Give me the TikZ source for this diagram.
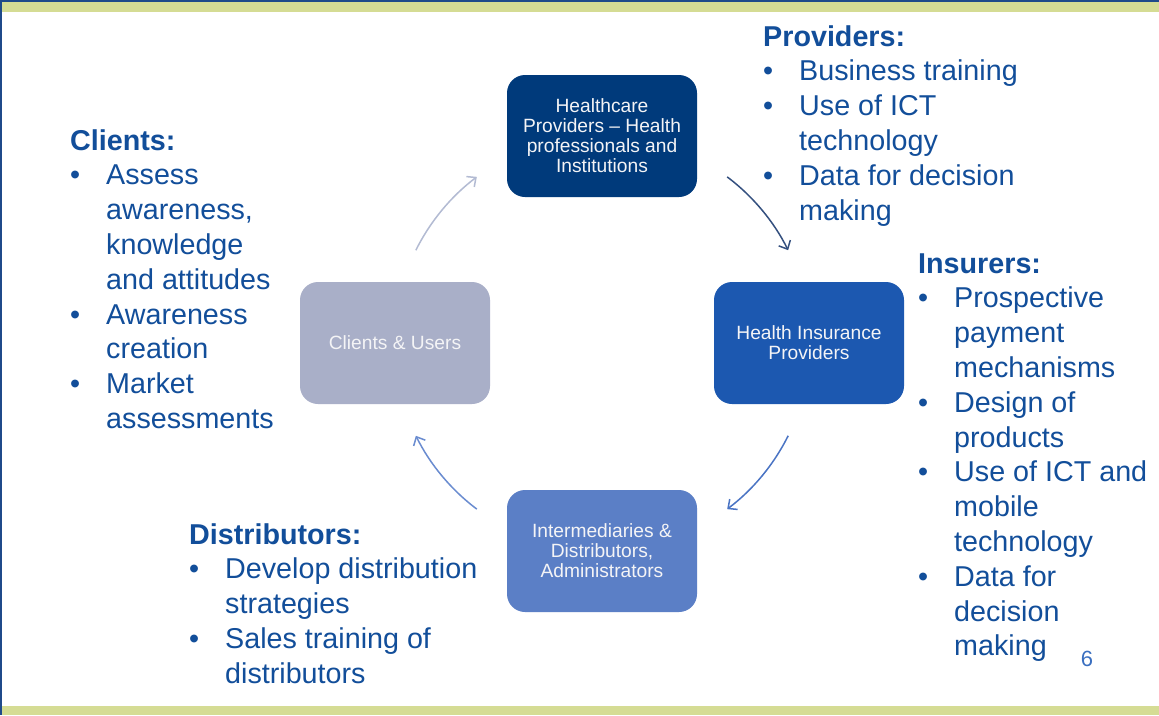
\documentclass[tikz,border=0pt]{standalone}
\usepackage{fontspec}
\setmainfont{Liberation Sans}
\usetikzlibrary{arrows.meta,calc}

\definecolor{bandgreen}{HTML}{D5DC94}
\definecolor{framenavy}{HTML}{1F4A8A}
\definecolor{textblue}{HTML}{124E9A}
\definecolor{boxnavy}{HTML}{003A7B}
\definecolor{boxblue}{HTML}{1C58B0}
\definecolor{boxmid}{HTML}{5B7FC6}
\definecolor{boxgrey}{HTML}{A9AFC8}
\definecolor{boxtext}{HTML}{F4F4F6}
\definecolor{arrgrey}{HTML}{B3BBD3}
\definecolor{arrnavy}{HTML}{34507F}
\definecolor{arrblue}{HTML}{4A74C4}
\definecolor{arrmid}{HTML}{6A8CD0}
\definecolor{pagenum}{HTML}{3A6FC0}

\tikzset{
  stakeholder/.style={rounded corners=18pt, minimum width=190pt, minimum height=122pt,
    inner sep=0pt, align=center, text=boxtext, font=\fontsize{19.2}{20}\selectfont},
  notes/.style={anchor=north west, inner sep=0pt, text=textblue,
    font=\fontsize{28.7}{34.8}\selectfont},
  cyclearrow/.style={line width=1.5pt, -{Straight Barb[length=7pt,width=13pt]}}
}

% bullet list: heading row, then rows of bullet + text
\newenvironment{actionlist}[1]{%
  \begin{tabular}{@{}p{36pt}@{}l@{}}
  \multicolumn{2}{@{}l@{}}{\textbf{#1}}\\}{%
  \end{tabular}}
\newcommand{\itm}{\textbullet}

\begin{document}
\begin{tikzpicture}[x=1pt,y=-1pt]
  \useasboundingbox (0,0) rectangle (1159,715);

  % slide frame
  \fill[white] (0,0) rectangle (1159,715);
  \fill[bandgreen] (0,0) rectangle (1159,12);
  \fill[bandgreen] (0,706) rectangle (1159,715);
  \draw[framenavy, line width=1.5pt] (0,0.75) -- (1159,0.75);
  \draw[framenavy, line width=1.5pt] (0.75,0) -- (0.75,715);

  % stakeholder boxes
  \node[stakeholder, fill=boxnavy] (hcp) at (602,136)
    {Healthcare\\Providers -- Health\\professionals and\\Institutions};
  \node[stakeholder, fill=boxblue] (hip) at (809,343)
    {Health Insurance\\Providers};
  \node[stakeholder, fill=boxmid] (ida) at (602,551)
    {Intermediaries \&\\Distributors,\\Administrators};
  \node[stakeholder, fill=boxgrey] (cu) at (395,343)
    {Clients \& Users};

  % cycle arrows on a circle round the boxes
  \coordinate (hub) at (602,343);
  \path (hub) ++(-153.5:208) coordinate (a1);
  \path (hub) ++(-53:208) coordinate (a2);
  \path (hub) ++(26.5:208) coordinate (a3);
  \path (hub) ++(127:208) coordinate (a4);
  \draw[cyclearrow, arrgrey] (a1) arc[start angle=-153.5, end angle=-127, radius=208];
  \draw[cyclearrow, arrnavy] (a2) arc[start angle=-53, end angle=-26.5, radius=208];
  \draw[cyclearrow, arrblue] (a3) arc[start angle=26.5, end angle=53, radius=208];
  \draw[cyclearrow, arrmid] (a4) arc[start angle=127, end angle=153.5, radius=208];

  % action notes
  \node[notes] (clients) at (70,125.5) {%
    \begin{actionlist}{Clients:}
    \itm & Assess\\
         & awareness,\\
         & knowledge\\
         & and attitudes\\
    \itm & Awareness\\
         & creation\\
    \itm & Market\\
         & assessments
    \end{actionlist}};

  \node[notes] (providers) at (763,21.5) {%
    \begin{actionlist}{Providers:}
    \itm & Business training\\
    \itm & Use of ICT\\
         & technology\\
    \itm & Data for decision\\
         & making
    \end{actionlist}};

  \node[notes] (insurers) at (918,248.5) {%
    \begin{actionlist}{Insurers:}
    \itm & Prospective\\
         & payment\\
         & mechanisms\\
    \itm & Design of\\
         & products\\
    \itm & Use of ICT and\\
         & mobile\\
         & technology\\
    \itm & Data for\\
         & decision\\
         & making
    \end{actionlist}};

  \node[notes] (distributors) at (189,519.5) {%
    \begin{actionlist}{Distributors:}
    \itm & Develop distribution\\
         & strategies\\
    \itm & Sales training of\\
         & distributors
    \end{actionlist}};

  \node[text=pagenum, font=\fontsize{22}{24}\selectfont, inner sep=0pt] (page) at (1087,659) {6};
\end{tikzpicture}
\end{document}
